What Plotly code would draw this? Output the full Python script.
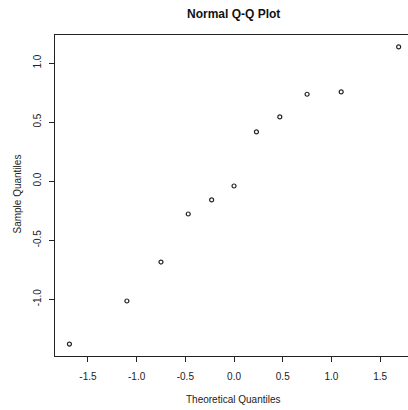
import plotly.graph_objects as go

# Data
theoretical = [-1.69, -1.10, -0.75, -0.47, -0.23, 0.00, 0.23, 0.47, 0.75, 1.10, 1.69]
sample = [-1.38, -1.015, -0.685, -0.278, -0.159, -0.041, 0.417, 0.544, 0.736, 0.756, 1.137]
x_ticks = [-1.5, -1.0, -0.5, 0.0, 0.5, 1.0, 1.5]
y_ticks = [-1.0, -0.5, 0.0, 0.5, 1.0]
x_tick_text = ["-1.5", "-1.0", "-0.5", "0.0", "0.5", "1.0", "1.5"]
y_tick_text = ["-1.0", "-0.5", "0.0", "0.5", "1.0"]

FONT = "Liberation Sans, Arial, sans-serif"
INK = "#222222"

fig = go.Figure()
fig.add_trace(go.Scatter(
    x=theoretical, y=sample, mode="markers",
    marker=dict(symbol="circle-open", size=4, color=INK, line=dict(width=1.2, color=INK)),
    hoverinfo="x+y", showlegend=False,
))

fig.update_layout(
    width=408, height=410,
    margin=dict(l=55, r=0, t=35, b=54),
    paper_bgcolor="white", plot_bgcolor="white",
    font=dict(family=FONT, size=10, color=INK),
    xaxis=dict(
        range=[-1.838, 1.786], tickvals=x_ticks, ticktext=x_tick_text,
        showgrid=False, zeroline=False, showline=True, mirror=True,
        linecolor=INK, linewidth=1, ticks="outside", ticklen=5, tickwidth=1,
        tickcolor=INK, tickfont=dict(size=10, family=FONT, color=INK),
        ticklabelstandoff=6,
    ),
    yaxis=dict(
        range=[-1.481, 1.238], tickvals=y_ticks, ticktext=y_tick_text,
        showgrid=False, zeroline=False, showline=True, mirror=False,
        linecolor=INK, linewidth=1, ticks="outside", ticklen=5, tickwidth=1,
        tickcolor=INK, tickangle=-90, tickfont=dict(size=10, family=FONT, color=INK),
        ticklabelstandoff=4,
    ),
    annotations=[
        dict(text="<b>Normal Q-Q Plot</b>", xref="paper", yref="paper",
             x=0.5057, y=1.065, showarrow=False, xanchor="center", yanchor="middle",
             font=dict(size=12, family=FONT, color="#111111")),
        dict(text="Theoretical Quantiles", xref="paper", yref="paper",
             x=0.5057, y=-0.134, showarrow=False, xanchor="center", yanchor="middle",
             font=dict(size=10, family=FONT, color=INK)),
        dict(text="Sample Quantiles", xref="paper", yref="paper",
             x=-0.1048, y=0.503, showarrow=False, xanchor="center", yanchor="middle",
             textangle=-90, font=dict(size=10, family=FONT, color=INK)),
    ],
)

fig.write_html("out.html")
